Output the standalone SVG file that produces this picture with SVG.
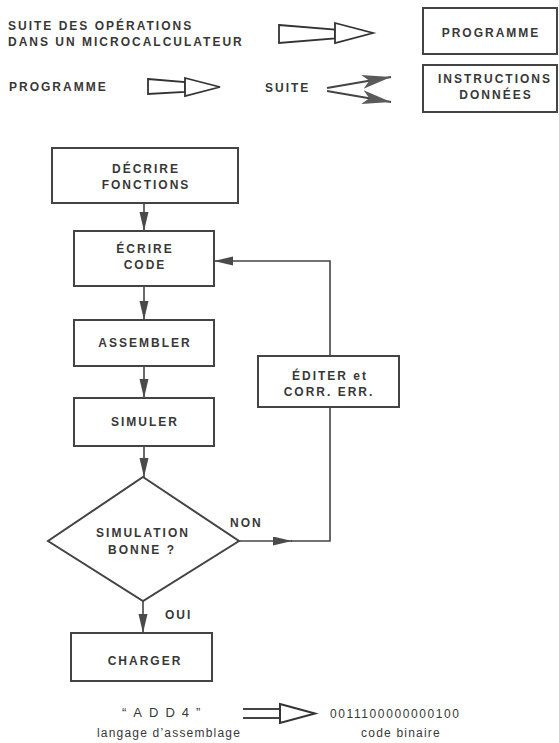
<svg xmlns="http://www.w3.org/2000/svg" width="559" height="743" viewBox="0 0 559 743">
<style>
.lbl{font-family:"Liberation Sans",Arial,sans-serif;font-weight:bold;font-size:12px;letter-spacing:2px;fill:#383838}
.reg{font-family:"Liberation Sans",Arial,sans-serif;font-size:12px;letter-spacing:1.2px;fill:#383838}
.box{fill:#fff;stroke:#444;stroke-width:2}
.ln{fill:none;stroke:#444;stroke-width:1.6}
.hollow{fill:#fff;stroke:#333;stroke-width:1.8;stroke-linejoin:miter}
</style>
<defs>
<marker id="ah" markerUnits="userSpaceOnUse" markerWidth="20" markerHeight="10" refX="19" refY="4.5" orient="auto">
<path d="M0,0 L19,4.5 L0,9 z" fill="#4a4a4a"/>
</marker>
<marker id="ah2" markerUnits="userSpaceOnUse" markerWidth="30" markerHeight="14" refX="29" refY="7" orient="auto">
<path d="M0,0 L29,7 L0,14 L7,7 z" fill="#5a5a5a"/>
</marker>
</defs>
<rect width="559" height="743" fill="#fff"/>

<g id="legend">
<text class="lbl" x="8" y="30">SUITE DES OPÉRATIONS</text>
<text class="lbl" x="8" y="46">DANS UN MICROCALCULATEUR</text>
<polygon class="hollow" points="279,25 335,29.5 335,38.5 279,43"/>
<polygon class="hollow" points="335,23 373,33 335,43"/>
<text class="lbl" x="9" y="91">PROGRAMME</text>
<polygon class="hollow" points="148,79 185,82 185,92 148,94"/>
<polygon class="hollow" points="185,78 220,87 185,96"/>
<text class="lbl" x="265" y="92">SUITE</text>
<line class="ln" x1="327" y1="88" x2="391" y2="77" marker-end="url(#ah2)" style="stroke-width:2"/>
<line class="ln" x1="327" y1="91" x2="391" y2="102" marker-end="url(#ah2)" style="stroke-width:2"/>
</g>
<g id="prog-box">
<rect class="box" x="423" y="8" width="134" height="46"/>
<text class="lbl" x="491" y="37" text-anchor="middle">PROGRAMME</text>
</g>
<g id="instr-box">
<rect class="box" x="423" y="65" width="134" height="47"/>
<text class="lbl" x="495" y="83" text-anchor="middle">INSTRUCTIONS</text>
<text class="lbl" x="496" y="99" text-anchor="middle">DONNÉES</text>
</g>

<g id="connectors">
<line class="ln" x1="144" y1="203" x2="144" y2="231" marker-end="url(#ah)"/>
<line class="ln" x1="144" y1="286" x2="144" y2="320" marker-end="url(#ah)"/>
<line class="ln" x1="144" y1="366" x2="144" y2="398" marker-end="url(#ah)"/>
<line class="ln" x1="144" y1="446" x2="144" y2="477" marker-end="url(#ah)"/>
<line class="ln" x1="143" y1="601" x2="143" y2="633" marker-end="url(#ah)"/>
<path class="ln" d="M239,541 H292" marker-end="url(#ah)"/>
<path class="ln" d="M291,541 H330 V407"/>
<path class="ln" d="M330,356 V261 H214" marker-end="url(#ah)"/>
</g>

<g id="decrire">
<rect class="box" x="52" y="148" width="186" height="55"/>
<text class="lbl" x="146" y="173" text-anchor="middle">DÉCRIRE</text>
<text class="lbl" x="146" y="189" text-anchor="middle">FONCTIONS</text>
</g>
<g id="ecrire">
<rect class="box" x="74" y="231" width="140" height="55"/>
<text class="lbl" x="145" y="253" text-anchor="middle">ÉCRIRE</text>
<text class="lbl" x="145" y="269" text-anchor="middle">CODE</text>
</g>
<g id="assembler">
<rect class="box" x="74" y="320" width="140" height="46"/>
<text class="lbl" x="145" y="347" text-anchor="middle">ASSEMBLER</text>
</g>
<g id="simuler">
<rect class="box" x="74" y="398" width="140" height="48"/>
<text class="lbl" x="145" y="426" text-anchor="middle">SIMULER</text>
</g>
<g id="editer">
<rect class="box" x="258" y="356" width="141" height="51"/>
<text class="lbl" x="330" y="380" text-anchor="middle">ÉDITER et</text>
<text class="lbl" x="329" y="396" text-anchor="middle">CORR. ERR.</text>
</g>
<g id="decision">
<polygon class="box" points="143,477 239,541 143,601 48,541"/>
<text class="lbl" x="143" y="537" text-anchor="middle">SIMULATION</text>
<text class="lbl" x="142" y="554" text-anchor="middle">BONNE ?</text>
</g>
<text class="lbl" x="230" y="527">NON</text>
<text class="lbl" x="165" y="619">OUI</text>
<g id="charger">
<rect class="box" x="71" y="633" width="141" height="48"/>
<text class="lbl" x="145" y="665" text-anchor="middle">CHARGER</text>
</g>

<g id="example">
<text class="reg" x="122" y="717" style="font-size:13px;letter-spacing:7px">“ADD4”</text>
<text class="reg" x="169" y="737" text-anchor="middle">langage d’assemblage</text>
<line class="ln" x1="243" y1="709" x2="281" y2="709" style="stroke-width:2"/>
<line class="ln" x1="243" y1="718" x2="281" y2="718" style="stroke-width:2"/>
<polygon class="hollow" points="280,704 315,713.5 280,723" style="stroke-width:2"/>
<text class="reg" x="330" y="718" style="letter-spacing:1.6px">0011100000000100</text>
<text class="reg" x="401" y="737" text-anchor="middle">code binaire</text>
</g>
</svg>
